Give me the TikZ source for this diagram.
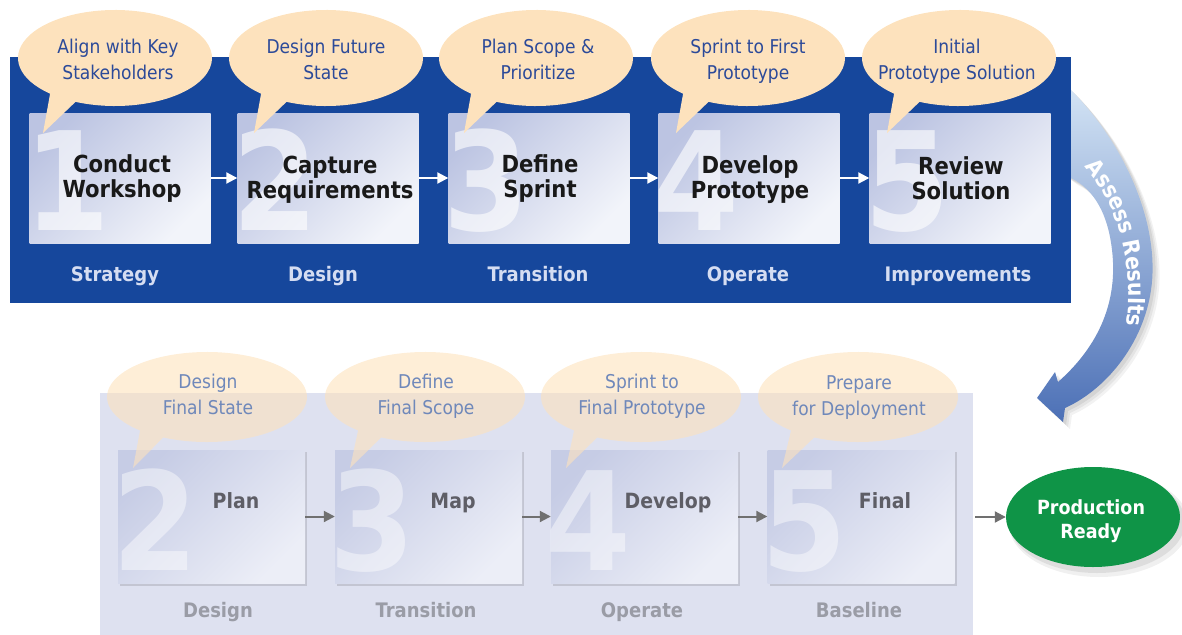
\documentclass[tikz,border=0pt]{standalone}
\usepackage{fontspec}
\setmainfont{DejaVu Sans}[FakeStretch=0.9]
\usetikzlibrary{arrows.meta,decorations.text,shapes.geometric}
\definecolor{panelblue}{HTML}{16479C}
\definecolor{panellight}{HTML}{DEE1F0}
\definecolor{boxA}{HTML}{BCC4E2}
\definecolor{boxB}{HTML}{F2F4FA}
\definecolor{lboxA}{HTML}{C6CCE5}
\definecolor{lboxB}{HTML}{ECEEF7}
\definecolor{peach}{HTML}{FDE2BD}
\definecolor{bubtxt}{HTML}{2C4A99}
\definecolor{lbubtxt}{HTML}{6F88BA}
\definecolor{toplab}{HTML}{D5DDF2}
\definecolor{botlab}{HTML}{9A9CA6}
\definecolor{botbox}{HTML}{5E5E66}
\definecolor{prgreen}{HTML}{0F9447}
\definecolor{grayarrow}{HTML}{707070}
\definecolor{arrA}{HTML}{D6E6F6}
\definecolor{arrM}{HTML}{90A8D5}
\definecolor{arrB}{HTML}{4C70B6}
\newcommand\fsz[2]{\fontsize{#1}{#2}\selectfont}
\newcommand\arrowtextfont{\fsz{22.5}{22.5}\bfseries\color{white}}
\begin{document}
\begin{tikzpicture}[x=1pt,y=-1pt,
  topbox/.style={minimum width=181pt, minimum height=130pt, inner sep=0pt, draw=none,
     top color=boxA, bottom color=boxB, shading angle=45},
  botbox/.style={minimum width=187pt, minimum height=133pt, inner sep=0pt, draw=none,
     top color=lboxA, bottom color=lboxB, shading angle=45},
  bigdigit/.style={anchor=base west, inner sep=0pt, font=\fsz{137}{137}\bfseries, text=white, text opacity=#1},
  struts/.style={execute at begin node=\strut, execute at end node=\strut},
  boxtext/.style={struts, align=center, inner sep=0pt, font=\fsz{23.5}{25}\bfseries, text=black!90},
  lboxtext/.style={anchor=base, inner sep=0pt, font=\fsz{21}{25}\bfseries, text=botbox},
  bubtext/.style={struts, align=center, inner sep=0pt, font=\fsz{19}{26}, text=#1},
  toplabel/.style={anchor=base, inner sep=0pt, font=\fsz{20}{24}\bfseries, text=toplab},
  botlabel/.style={anchor=base, inner sep=0pt, font=\fsz{20}{24}\bfseries, text=botlab},
  whitearrow/.style={draw=white, line width=2pt, -{Triangle[length=11pt,width=11pt]}},
  grayconn/.style={draw=grayarrow, line width=2pt, -{Triangle[length=11pt,width=11pt]}}
]
\useasboundingbox (0,0) rectangle (1182,634);

% ---------- curved "Assess Results" arrow ----------
\foreach \dx/\op in {7/.05,5/.06,3/.07}{
\fill[black, opacity=\op, xshift=\dx pt, yshift=-\dx pt]
  (1060,80) -- (1071,90) .. controls (1130,150) and (1160,230) .. (1151,290)
  .. controls (1143,345) and (1105,390) .. (1065,408)
  -- (1063,422) -- (1037,398) -- (1055,372) -- (1058,382)
  .. controls (1100,345) and (1118,300) .. (1112,250)
  .. controls (1108,215) and (1095,190) .. (1071,178) -- (1060,170) -- cycle;
}
\shade[top color=arrA, middle color=arrM, bottom color=arrB]
  (1060,80) -- (1071,90) .. controls (1130,150) and (1160,230) .. (1151,290)
  .. controls (1143,345) and (1105,390) .. (1065,408)
  -- (1063,422) -- (1037,398) -- (1055,372) -- (1058,382)
  .. controls (1100,345) and (1118,300) .. (1112,250)
  .. controls (1108,215) and (1095,190) .. (1071,178) -- (1060,170) -- cycle;
\path[decorate, decoration={text along path, text align=center,
   text={|\arrowtextfont|Assess Results}}]
  (1066,148) .. controls (1116,192) and (1140,258) .. (1123,352);

% ---------- upper panel ----------
\node[fill=panelblue, minimum width=1061pt, minimum height=246pt, inner sep=0pt] (upper) at (540.5,180) {};

\foreach \i/\x in {1/120,2/328,3/539,4/749,5/960}{
  \node[topbox] (t\i) at (\x,178) {};
  \node[bigdigit=.62] (d\i) at ({\x-96},230) {\i};
}
\node[boxtext] (x1) at (122,180) {Conduct\\Workshop};
\node[boxtext] (x2) at (330,181.5) {Capture\\Requirements};
\node[boxtext] (x3) at (540,180) {Define\\Sprint};
\node[boxtext] (x4) at (750,180.5) {Develop\\Prototype};
\node[boxtext] (x5) at (961,181.5) {Review\\Solution};

\foreach \a/\b in {1/2,2/3,3/4,4/5}{
  \draw[whitearrow] (t\a) -- (t\b);
}

\node[toplabel] (s1) at (115,281) {Strategy};
\node[toplabel] (s2) at (323,281) {Design};
\node[toplabel] (s3) at (538,281) {Transition};
\node[toplabel] (s4) at (748,281) {Operate};
\node[toplabel] (s5) at (958,281) {Improvements};

% upper speech bubbles
\foreach \cx in {115,326,536,748,959}{
  \fill[peach] ({\cx+97*cos(114)},{58+48*sin(114)})
     arc[start angle=114, end angle=-228, x radius=97, y radius=48]
     -- ({\cx-72},133) -- cycle;
}
\node[bubtext=bubtxt] (q1) at (118,63) {Align with Key\\Stakeholders};
\node[bubtext=bubtxt] (q2) at (326,63) {Design Future\\State};
\node[bubtext=bubtxt] (q3) at (538,63) {Plan Scope \&\\Prioritize};
\node[bubtext=bubtxt] (q4) at (748,63) {Sprint to First\\Prototype};
\node[bubtext=bubtxt] (q5) at (957,63) {Initial\\Prototype Solution};

% ---------- lower panel ----------
\node[fill=panellight, minimum width=873pt, minimum height=245pt, inner sep=0pt] (lower) at (536.5,515.5) {};

\foreach \i/\x/\n in {1/211.5/2,2/428.5/3,3/644.5/4,4/861/5}{
  \fill[black, opacity=.12] ({\x-91.5},{452}) rectangle ({\x+95.5},{585.5});
  \node[botbox] (b\i) at (\x,516.5) {};
  \node[bigdigit=.45] (e\i) at ({\x-99.5},570) {\n};
}
\node[lboxtext] (y1) at (236,508.5) {Plan};
\node[lboxtext] (y2) at (453,508.5) {Map};
\node[lboxtext] (y3) at (668,508.5) {Develop};
\node[lboxtext] (y4) at (885,508.5) {Final};

\foreach \a/\b in {1/2,2/3,3/4}{
  \draw[grayconn] (b\a) -- (b\b);
}

\node[botlabel] (g1) at (218,617) {Design};
\node[botlabel] (g2) at (426,617) {Transition};
\node[botlabel] (g3) at (642,617) {Operate};
\node[botlabel] (g4) at (859,617) {Baseline};

% lower speech bubbles (translucent)
\foreach \cx/\bx in {207/118,425/335,641/551,858/767}{
  \fill[peach, opacity=.6] ({\cx+100*cos(116)},{397+45*sin(116)})
     arc[start angle=116, end angle=-228, x radius=100, y radius=45]
     -- ({\bx+15},468) -- cycle;
}
\node[bubtext=lbubtxt] (r1) at (208,398.5) {Design\\Final State};
\node[bubtext=lbubtxt] (r2) at (426,398.5) {Define\\Final Scope};
\node[bubtext=lbubtxt] (r3) at (642,398.5) {Sprint to\\Final Prototype};
\node[bubtext=lbubtxt] (r4) at (859,399.5) {Prepare\\for Deployment};

% ---------- production ready ----------
\fill[black, opacity=.06] (1099,524) ellipse [x radius=90, y radius=53];
\fill[black, opacity=.08] (1097,522) ellipse [x radius=88, y radius=51];
\node[ellipse, fill=prgreen, minimum width=174pt, minimum height=100pt, inner sep=0pt] (pr) at (1093,517) {};
\node[struts, text=white, font=\fsz{19.5}{24}\bfseries, align=center, inner sep=0pt] (prt) at (1091,523) {Production\\Ready};
\draw[grayconn, shorten <=2pt] (lower.east |- pr.west) -- (pr.west);

\end{tikzpicture}
\end{document}
